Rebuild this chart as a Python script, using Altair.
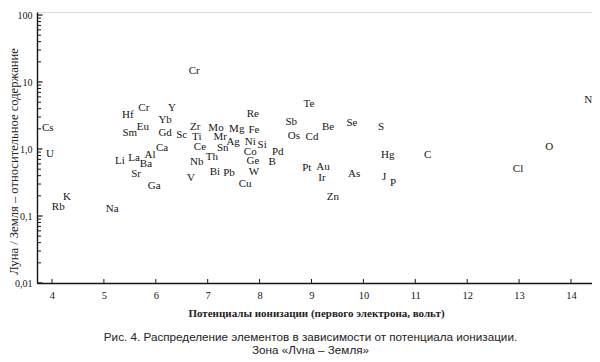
import altair as alt
import pandas as pd

elements = ["Cr", "Hf", "Cr", "Y", "Yb", "Eu", "Sm", "Gd", "Sc", "Zr", "Ti", "Mo", "Mg", "Fe", "Re",
            "Mr", "Ag", "Ni", "Si", "Cs", "Sb", "Os", "Te", "Cd", "Be", "Se", "S", "N", "O", "Hg",
            "C", "Pt", "Au", "Ir", "As", "J", "P", "Zn", "Cl", "U", "Li", "La", "Al", "Ca", "Ba",
            "Sr", "Ga", "Ce", "Sn", "Th", "Nb", "V", "Bi", "Pb", "Cu", "W", "Ge", "Co", "Pd", "B",
            "K", "Rb", "Na"]
potential = [6.74, 5.46, 5.77, 6.31, 6.18, 5.75, 5.50, 6.18, 6.50, 6.76, 6.79, 7.16, 7.56, 7.89, 7.87,
             7.24, 7.49, 7.82, 8.05, 3.92, 8.61, 8.66, 8.95, 9.01, 9.32, 9.78, 10.34, 14.33, 13.58, 10.47,
             11.24, 8.91, 9.22, 9.20, 9.82, 10.40, 10.57, 9.41, 12.98, 3.96, 5.31, 5.58, 5.89, 6.12, 5.81,
             5.62, 5.97, 6.85, 7.29, 7.08, 6.79, 6.68, 7.14, 7.41, 7.72, 7.89, 7.87, 7.82, 8.35, 8.24,
             4.29, 4.12, 5.16]
ratio = [14.6, 3.22, 4.09, 4.09, 2.71, 2.13, 1.73, 1.73, 1.62, 2.13, 1.51, 2.06, 1.98, 1.92, 3.32,
         1.51, 1.27, 1.27, 1.15, 2.06, 2.53, 1.56, 4.69, 1.51, 2.13, 2.45, 2.13, 5.39, 1.07, 0.814,
         0.814, 0.520, 0.538, 0.369, 0.424, 0.382, 0.311, 0.192, 0.503, 0.843, 0.662, 0.731, 0.814, 1.035, 0.597,
         0.424, 0.280, 1.07, 1.035, 0.759, 0.640, 0.369, 0.453, 0.439, 0.301, 0.453, 0.662, 0.901, 0.901, 0.640,
         0.192, 0.136, 0.127]

x_ticks = [4, 5, 6, 7, 8, 9, 10, 11, 12, 13, 14]
y_major = [0.01, 0.1, 1, 10, 100]
y_minor = [0.02, 0.03, 0.04, 0.05, 0.06, 0.07, 0.08, 0.09,
           0.2, 0.3, 0.4, 0.5, 0.6, 0.7, 0.8, 0.9,
           2, 3, 4, 5, 6, 7, 8, 9,
           20, 30, 40, 50, 60, 70, 80, 90]

x_title = "Потенциалы ионизации (первого электрона, вольт)"
y_title = "Луна / Земля – относительное содержание"
caption = ["Рис. 4. Распределение элементов в зависимости от потенциала ионизации.",
           "Зона «Луна – Земля»"]

df = pd.DataFrame({"el": elements, "ip": potential, "ratio": ratio})
df_xt = pd.DataFrame({"ip": x_ticks})
df_ymaj = pd.DataFrame({"ratio": y_major})
df_ymin = pd.DataFrame({"ratio": y_minor})

W, H = 555, 271
serif = "Liberation Serif"
ink = "#151515"
xscale = alt.Scale(domain=[3.711, 14.405], nice=False, zero=False)
yscale = alt.Scale(type="log", domain=[0.01, 110.9], nice=False)

x_axis = alt.Axis(values=x_ticks, ticks=False, grid=False, domainColor=ink, domainWidth=1.4,
                  labelFont=serif, labelFontSize=10.5, labelColor=ink, labelPadding=7,
                  titleFont=serif, titleFontSize=11, titleFontWeight="bold", titleColor="#222",
                  titleX=279, titleY=30, titleBaseline="middle")
y_axis = alt.Axis(values=y_major, ticks=False, grid=False, domainColor=ink, domainWidth=1.4,
                  labelFont=serif, labelFontSize=10, labelColor=ink, labelPadding=5,
                  labelExpr="datum.value == 0.01 ? '0,01' : datum.value == 0.1 ? '0,1' : datum.value == 1 ? '1,0' : datum.value == 10 ? '10' : '100'",
                  titleFont=serif, titleFontSize=12.6, titleFontWeight="normal", titleColor="#222",
                  titleX=-24, titleY=149, titleBaseline="middle")

X = alt.X("ip:Q", scale=xscale, title=x_title, axis=x_axis)
Y = alt.Y("ratio:Q", scale=yscale, title=y_title, axis=y_axis)

labels = alt.Chart(df).mark_text(font=serif, fontSize=11, color=ink, baseline="middle", align="center").encode(
    x=X, y=Y, text="el:N")

xt = alt.Chart(df_xt).mark_rule(color=ink, strokeWidth=1).encode(
    x=X, y=alt.value(H), y2=alt.value(H - 4))
ymaj = alt.Chart(df_ymaj).mark_rule(color=ink, strokeWidth=1.2).encode(
    y=Y, x=alt.value(0), x2=alt.value(5.5))
ymin = alt.Chart(df_ymin).mark_rule(color=ink, strokeWidth=1).encode(
    y=Y, x=alt.value(0), x2=alt.value(4))

chart = alt.layer(labels, xt, ymaj, ymin).properties(
    width=W, height=H,
    autosize=alt.AutoSizeParams(type="none"),
    padding={"left": 29, "top": 4, "right": 0, "bottom": 71},
    title=alt.TitleParams(text=caption, orient="bottom", anchor="middle", frame="group",
                          font="Liberation Sans", fontSize=11.7, fontWeight="normal", color="#222",
                          lineHeight=12.5, offset=14, dx=-4),
).configure_view(stroke=None).configure(background="white")

chart.save("out.html", embed_options={"renderer": "svg", "actions": False})
